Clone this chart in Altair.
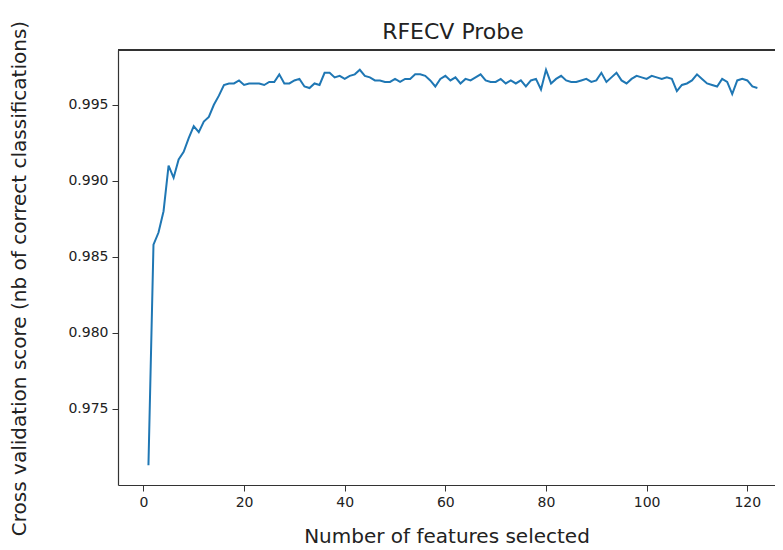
import altair as alt
import pandas as pd

n_features = list(range(1, 123))
scores = [
    0.9713, 0.9858, 0.9866, 0.9880, 0.9910, 0.9902, 0.9914, 0.9919, 0.9928, 0.9936,
    0.9932, 0.9939, 0.9942, 0.9950, 0.9956, 0.9963, 0.9964, 0.9964, 0.9966, 0.9963,
    0.9964, 0.9964, 0.9964, 0.9963, 0.9965, 0.9965, 0.9970, 0.9964, 0.9964, 0.9966,
    0.9967, 0.9962, 0.9961, 0.9964, 0.9963, 0.9971, 0.9971, 0.9968, 0.9969, 0.9967,
    0.9969, 0.9970, 0.9973, 0.9969, 0.9968, 0.9966, 0.9966, 0.9965, 0.9965, 0.9967,
    0.9965, 0.9967, 0.9967, 0.9970, 0.9970, 0.9969, 0.9966, 0.9962, 0.9967, 0.9969,
    0.9966, 0.9968, 0.9964, 0.9967, 0.9966, 0.9968, 0.9970, 0.9966, 0.9965, 0.9965,
    0.9967, 0.9964, 0.9966, 0.9964, 0.9966, 0.9962, 0.9966, 0.9967, 0.9960, 0.9973,
    0.9964, 0.9967, 0.9969, 0.9966, 0.9965, 0.9965, 0.9966, 0.9967, 0.9965, 0.9966,
    0.9971, 0.9965, 0.9968, 0.9971, 0.9966, 0.9964, 0.9967, 0.9969, 0.9968, 0.9967,
    0.9969, 0.9968, 0.9967, 0.9968, 0.9967, 0.9959, 0.9963, 0.9964, 0.9966, 0.9970,
    0.9967, 0.9964, 0.9963, 0.9962, 0.9967, 0.9965, 0.9957, 0.9966, 0.9967, 0.9966,
    0.9962, 0.9961,
]
x_ticks = [0, 20, 40, 60, 80, 100, 120]
y_ticks = [0.975, 0.980, 0.985, 0.990, 0.995]
chart_title = ["RFECV Probe"]

df = pd.DataFrame({"n": n_features, "score": scores})
df_title = pd.DataFrame({"t": chart_title})

FONT = "DejaVu Sans"
W, H = 657, 435
FRAME = "#333"

line = (
    alt.Chart(df)
    .mark_line(color="#1f77b4", strokeWidth=2)
    .encode(
        x=alt.X("n:Q", scale=alt.Scale(domain=[-5.05, 125.5], nice=False, zero=False),
                axis=alt.Axis(values=x_ticks, title="Number of features selected",
                              format="d")),
        y=alt.Y("score:Q", scale=alt.Scale(domain=[0.9700, 0.9986], nice=False, zero=False),
                axis=alt.Axis(values=y_ticks,
                              title="Cross validation score (nb of correct classifications)",
                              format=".3f", titleY=228, titleFontSize=20)),
    )
)

top_border = alt.Chart(df).mark_rule(color=FRAME, strokeWidth=1.2).encode(
    x=alt.value(0), x2=alt.value(W), y=alt.value(0)
)

title_text = alt.Chart(df_title).mark_text(
    font=FONT, fontSize=22, color="#222", align="center", baseline="alphabetic"
).encode(text="t:N", x=alt.value(335), y=alt.value(-11))

chart = (
    alt.layer(line, top_border, title_text)
    .properties(
        width=W, height=H,
        autosize=alt.AutoSizeParams(type="none"),
        padding={"left": 110, "top": 42, "right": 0, "bottom": 65},
    )
    .configure_view(stroke=None)
    .configure_axis(
        domain=True, domainColor=FRAME, domainWidth=1.2, grid=False,
        tickColor=FRAME, tickSize=6, tickWidth=1,
        labelFont=FONT, labelFontSize=14, labelColor="#222", labelPadding=4,
        titleFont=FONT, titleFontSize=20, titleFontWeight="normal", titleColor="#222",
    )
    .configure_axisY(titlePadding=38)
    .configure_axisX(titlePadding=17)
)

chart.save("out.html", embed_options={"renderer": "svg", "actions": False})
